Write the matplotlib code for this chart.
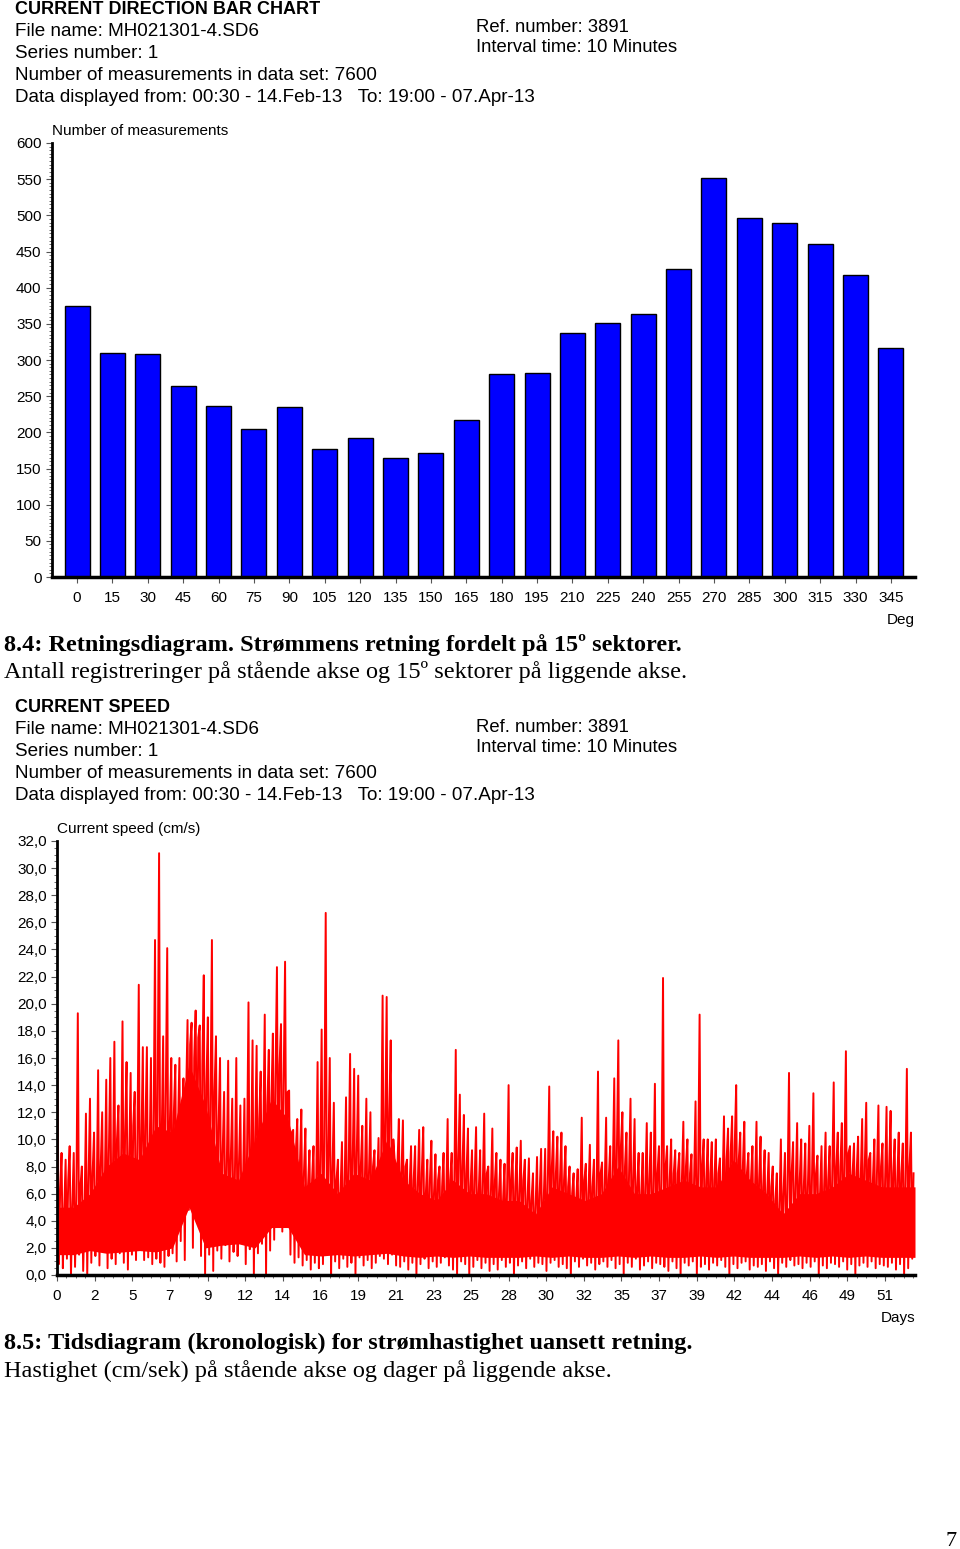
import numpy as np
import matplotlib.pyplot as plt
from matplotlib.ticker import MultipleLocator, FixedLocator, FixedFormatter

plt.rcParams['font.family'] = ['Liberation Sans', 'DejaVu Sans']

# --- current direction: counts per 15 deg sector
sectors = [0, 15, 30, 45, 60, 75, 90, 105, 120, 135, 150, 165,
           180, 195, 210, 225, 240, 255, 270, 285, 300, 315, 330, 345]
counts = [374, 310, 308, 264, 236, 204, 235, 177, 192, 165, 172, 217,
          280, 282, 338, 351, 363, 426, 551, 496, 490, 460, 417, 316]
count_ticks = [0, 50, 100, 150, 200, 250, 300, 350, 400, 450, 500, 550, 600]

# --- current speed (cm/s) per 6 h bin:
# highest peak, lowest value and a typical secondary peak
speed_high = [
    15.2, 9.0, 8.5, 9.5,   9.0, 19.3, 8.0, 11.9,   13.0, 10.5, 15.1, 12.0,
    14.4, 16.0, 17.2, 12.5,   18.7, 15.7, 14.9, 13.5,   21.4, 16.8, 16.8, 16.0,
    24.7, 31.1, 17.6, 24.1,   16.0, 15.5, 16.0, 14.5,   18.8, 18.6, 19.5, 18.4,
    22.1, 19.0, 24.7, 17.6,   16.0, 13.5, 15.8, 13.0,   16.0, 12.5, 13.0, 20.1,
    17.3, 16.9, 15.0, 19.2,   16.6, 17.8, 22.7, 18.5,   23.1, 13.6, 10.7, 11.5,
    12.2, 10.8, 9.2, 9.5,   15.7, 18.1, 26.7, 16.0,   12.7, 8.5, 9.8, 13.1,
    16.3, 15.2, 14.7, 11.0,   13.0, 12.0, 9.2, 10.1,   20.6, 20.5, 17.3, 8.3,
    11.5, 11.4, 8.5, 9.5,   9.5, 10.7, 10.9, 8.5,   9.9, 8.9, 8.0, 9.0,
    11.5, 9.0, 16.6, 13.3,   11.8, 10.8, 9.2, 10.9,   9.2, 11.9, 8.0, 10.8,
    9.0, 8.5, 8.2, 14.0,   9.0, 9.4, 9.9, 8.5,   8.6, 7.5, 8.7, 9.3,
    9.3, 13.9, 10.6, 10.2,   10.5, 9.5, 8.0, 7.5,   7.8, 11.6, 8.2, 9.6,
    8.5, 15.0, 8.3, 11.6,   9.5, 14.5, 17.3, 12.0,   10.5, 13.0, 11.5, 9.0,
    9.0, 11.2, 10.5, 14.1,   9.5, 21.9, 9.5, 10.0,   9.2, 9.0, 11.3, 10.0,
    8.9, 12.8, 19.2, 10.0,   10.0, 9.8, 10.0, 8.6,   11.7, 10.8, 11.7, 14.0,
    10.5, 11.3, 9.0, 9.5,   11.3, 10.2, 9.2, 9.0,   8.0, 7.5, 10.0, 9.0,
    14.9, 9.8, 11.2, 10.0,   9.7, 11.0, 13.4, 8.8,   9.5, 10.5, 9.5, 14.2,
    10.5, 11.2, 16.5, 9.5,   9.7, 10.2, 11.5, 12.7,   9.0, 10.0, 12.5, 9.7,
    12.4, 12.1, 10.0, 10.5,   9.7, 15.2, 10.5,
]
speed_low = [
    0.8, 0.5, 1.2, 0.0,   0.6, 1.5, 0.3, 0.0,   0.9, 1.4, 0.7, 1.8,
    0.5, 1.2, 0.8, 1.6,   0.9, 0.4, 1.5, 1.1,   2.0, 1.1, 1.3, 0.8,
    1.2, 0.9, 0.6, 1.4,   1.6, 1.0, 2.5, 1.1,   4.8, 2.0, 5.5, 1.4,
    0.0, 1.5, 0.3, 1.8,   1.2, 2.2, 1.0, 1.7,   1.4, 2.4, 0.8, 1.9,
    0.0, 1.6, 2.3, 0.0,   1.8, 2.6, 4.5, 3.2,   5.0, 1.5, 0.9, 1.3,
    0.7, 1.1, 0.4, 0.9,   0.5, 0.8, 1.5, 0.0,   1.0, 0.5, 1.2, 0.6,
    0.9, 0.0, 1.3, 0.7,   1.1, 0.5, 0.9, 1.4,   1.2, 0.8, 1.5, 0.7,
    0.6, 1.0, 0.4, 0.9,   0.0, 0.8, 1.2, 0.5,   1.0, 0.6, 0.9, 1.3,
    0.7, 0.4, 0.0, 1.0,   0.8, 0.0, 0.6, 1.1,   0.5, 0.9, 0.3, 0.8,
    0.4, 1.1, 0.6, 0.9,   0.0, 0.7, 1.0, 0.5,   1.2, 0.6, 0.9, 0.8,
    0.3, 0.9, 1.1, 0.6,   0.8, 0.5, 0.0, 1.0,   0.6, 1.2, 0.7, 0.9,
    0.4, 0.8, 1.0, 0.6,   1.1, 0.5, 0.8, 0.0,   0.9, 0.6, 1.2, 0.4,
    0.7, 1.0, 0.5, 0.9,   0.8, 0.6, 0.3, 1.0,   0.5, 0.0, 0.9, 0.7,
    1.0, 0.0, 0.6, 0.8,   0.4, 0.9, 0.7, 1.1,   0.6, 0.0, 0.8, 0.5,
    0.9, 1.0, 0.4, 0.7,   0.6, 0.8, 0.3, 1.0,   0.5, 0.0, 0.9, 0.6,
    1.1, 0.7, 0.8, 0.5,   0.9, 0.6, 1.0, 0.0,   0.7, 0.5, 0.9, 0.8,
    0.6, 1.0, 0.4, 0.8,   0.0, 0.7, 0.9, 0.6,   1.0, 0.5, 0.8, 0.7,
    0.6, 0.9, 0.4, 0.8,   0.0, 0.5, 1.2,
]
speed_mid = [
    6.0, 4.5, 7.0, 5.0,   5.5, 6.5, 4.5, 7.0,   7.5, 5.5, 8.0, 6.5,
    9.0, 7.5, 10.0, 8.0,   10.5, 8.5, 11.0, 9.0,   9.5, 11.0, 8.0, 10.5,
    12.5, 10.0, 13.0, 11.0,   12.0, 10.5, 11.5, 13.0,   17.0, 16.0, 17.5, 15.5,
    14.0, 12.0, 13.5, 11.0,   9.0, 7.5, 8.5, 7.0,   8.0, 6.5, 9.0, 8.5,
    10.0, 11.5, 10.5, 12.5,   13.0, 14.5, 15.5, 14.0,   13.5, 10.5, 9.0, 8.0,
    7.5, 6.5, 7.0, 6.0,   8.0, 9.5, 8.5, 7.5,   7.0, 6.0, 6.5, 7.5,
    8.5, 9.0, 8.0, 7.0,   7.5, 8.0, 6.5, 8.5,   11.0, 12.0, 10.0, 8.0,
    7.5, 8.0, 6.5, 7.0,   6.5, 7.5, 6.0, 7.0,   6.0, 7.0, 6.5, 5.5,
    7.0, 6.5, 8.5, 8.0,   7.5, 6.5, 7.0, 6.0,   6.5, 7.5, 6.0, 7.0,
    6.0, 5.5, 6.5, 7.0,   6.5, 6.0, 7.0, 5.5,   5.5, 5.0, 6.0, 5.5,
    6.5, 8.0, 7.5, 7.0,   7.0, 6.5, 6.0, 5.5,   5.5, 7.0, 6.0, 6.5,
    6.0, 7.5, 6.5, 7.0,   7.5, 9.0, 9.5, 8.0,   7.5, 7.0, 6.5, 6.0,
    6.5, 7.0, 6.5, 7.5,   7.0, 8.0, 7.0, 7.5,   7.5, 7.0, 8.0, 7.5,
    7.0, 7.5, 8.0, 7.0,   7.5, 7.0, 7.5, 6.5,   8.5, 9.0, 9.5, 8.5,
    8.0, 7.5, 7.0, 6.5,   7.0, 6.5, 6.0, 6.5,   5.5, 5.0, 6.0, 6.5,
    7.5, 6.5, 7.0, 6.5,   6.5, 7.0, 7.5, 6.0,   6.5, 7.0, 7.5, 8.0,
    8.0, 8.5, 9.0, 7.5,   7.5, 7.0, 8.0, 8.5,   7.0, 7.5, 8.0, 7.0,
    8.0, 7.5, 7.0, 7.5,   7.0, 8.0, 7.5,
]
# solid core of the trace, one value per day
body_top = [5.0, 5.0, 6.0, 8.0, 9.0, 8.5, 11.0, 10.5, 15.5, 12.5,
            7.5, 7.0, 10.0, 13.0, 11.5, 6.5, 7.5, 6.0, 7.5, 7.0,
            10.0, 7.0, 6.0, 5.5, 7.0, 6.0, 6.0, 5.5, 5.5, 4.5,
            6.5, 6.0, 5.5, 6.0, 8.0, 6.0, 6.0, 6.5, 7.0, 6.5,
            6.5, 8.5, 7.0, 6.0, 4.5, 6.0, 6.0, 6.5, 7.5, 7.0,
            6.5, 6.5, 6.5]
body_low = [1.5, 1.5, 1.8, 1.6, 1.7, 1.8, 1.7, 2.0, 5.0, 2.0,
            2.2, 2.3, 2.0, 3.5, 3.5, 1.5, 1.4, 1.5, 1.4, 1.5,
            1.6, 1.4, 1.3, 1.4, 1.3, 1.4, 1.3, 1.3, 1.3, 1.4,
            1.3, 1.4, 1.3, 1.3, 1.4, 1.3, 1.4, 1.3, 1.3, 1.4,
            1.3, 1.4, 1.3, 1.3, 1.3, 1.4, 1.3, 1.4, 1.3, 1.4,
            1.3, 1.3, 1.3]
bin_days = 0.25
total_days = 52.78
speed_ticks = [0, 2, 4, 6, 8, 10, 12, 14, 16, 18, 20, 22, 24, 26, 28, 30, 32]
speed_labels = ['0,0', '2,0', '4,0', '6,0', '8,0', '10,0', '12,0', '14,0', '16,0',
                '18,0', '20,0', '22,0', '24,0', '26,0', '28,0', '30,0', '32,0']
day_tick_step = 2.315
day_labels = ['0', '2', '5', '7', '9', '12', '14', '16', '19', '21', '23', '25',
              '28', '30', '32', '35', '37', '39', '42', '44', '46', '49', '51']

W, H = 960, 1549
fig = plt.figure(figsize=(W / 100, H / 100), dpi=100)


def fx(x):
    return x / W


def fy(y):
    return 1 - y / H


def header(top, title, ref_y):
    fig.text(fx(15), fy(top), title, fontsize=13, fontweight='bold', va='center')
    lines = ['File name: MH021301-4.SD6', 'Series number: 1',
             'Number of measurements in data set: 7600',
             'Data displayed from: 00:30 - 14.Feb-13   To: 19:00 - 07.Apr-13']
    for i, s in enumerate(lines):
        fig.text(fx(15), fy(top + 22 * (i + 1)), s, fontsize=13.6, va='center')
    fig.text(fx(476), fy(ref_y), 'Ref. number: 3891', fontsize=13.3, va='center')
    fig.text(fx(476), fy(ref_y + 20), 'Interval time: 10 Minutes', fontsize=13.3, va='center')


def style_axes(ax):
    for s in ['top', 'right']:
        ax.spines[s].set_visible(False)
    ax.spines['left'].set_linewidth(2)
    ax.spines['bottom'].set_linewidth(2.5)
    ax.tick_params(axis='both', labelsize=11, direction='out', length=4,
                   width=0.8, color='#555555')
    ax.tick_params(axis='y', which='minor', length=2, width=0.6, color='#555555')


# ---------- direction bar chart
header(9, 'CURRENT DIRECTION BAR CHART', 28)
ax1 = fig.add_axes([fx(52), fy(577), fx(915) - fx(52), fy(143) - fy(577)])
ax1.bar(sectors, counts, width=10.6, color='#0000ff', edgecolor='black', linewidth=1.0)
ax1.set_xlim(-10.6, 355.2)
ax1.set_ylim(0, 600)
ax1.set_xticks(sectors)
ax1.set_yticks(count_ticks)
ax1.yaxis.set_minor_locator(MultipleLocator(5))
style_axes(ax1)
ax1.tick_params(axis='x', pad=6)
fig.text(fx(52), fy(131), 'Number of measurements', fontsize=11, va='center')
fig.text(fx(915), fy(620), 'Deg', fontsize=11, va='center', ha='right')

serif = ['Liberation Serif', 'DejaVu Serif']
fig.text(fx(4), fy(645), '8.4: Retningsdiagram. Strømmens retning fordelt på 15º sektorer.',
         fontsize=17.5, fontweight='bold', family=serif, va='center')
fig.text(fx(4), fy(672), 'Antall registreringer på stående akse og 15º sektorer på liggende akse.',
         fontsize=17.5, family=serif, va='center')

# ---------- speed time series
header(707, 'CURRENT SPEED', 727)
ax2 = fig.add_axes([fx(57), fy(1275), fx(915) - fx(57), fy(841) - fy(1275)])
n = len(speed_high)
start = np.arange(n) * bin_days
t = np.empty(3 * n)
v = np.empty(3 * n)
t[0::3] = start + 0.03
t[1::3] = start + 0.11
t[2::3] = start + 0.19
v[0::3] = speed_high
v[1::3] = speed_low
v[2::3] = speed_mid
body_t = np.linspace(0, total_days, len(body_top))
ax2.fill_between(body_t, body_low, body_top, color='#ff0000', linewidth=0)
ax2.plot(t, v, color='#ff0000', linewidth=1.4)
ax2.set_xlim(0, total_days)
ax2.set_ylim(0, 32)
ax2.yaxis.set_major_locator(FixedLocator(speed_ticks))
ax2.yaxis.set_major_formatter(FixedFormatter(speed_labels))
ax2.yaxis.set_minor_locator(MultipleLocator(0.5))
day_pos = np.arange(len(day_labels)) * day_tick_step
ax2.xaxis.set_major_locator(FixedLocator(day_pos))
ax2.xaxis.set_major_formatter(FixedFormatter(day_labels))
ax2.xaxis.set_minor_locator(MultipleLocator(day_tick_step / 4))
style_axes(ax2)
ax2.tick_params(axis='x', which='minor', length=2, width=0.6, color='#555555')
ax2.tick_params(axis='x', pad=6)
fig.text(fx(57), fy(829), 'Current speed (cm/s)', fontsize=11, va='center')
fig.text(fx(915), fy(1318), 'Days', fontsize=11, va='center', ha='right')

fig.text(fx(4), fy(1343), '8.5: Tidsdiagram (kronologisk) for strømhastighet uansett retning.',
         fontsize=17.5, fontweight='bold', family=serif, va='center')
fig.text(fx(4), fy(1371), 'Hastighet (cm/sek) på stående akse og dager på liggende akse.',
         fontsize=17.5, family=serif, va='center')
fig.text(fx(957), fy(1541), '7', fontsize=16, family=serif, va='center', ha='right')

fig.savefig('out.png', dpi=100)
